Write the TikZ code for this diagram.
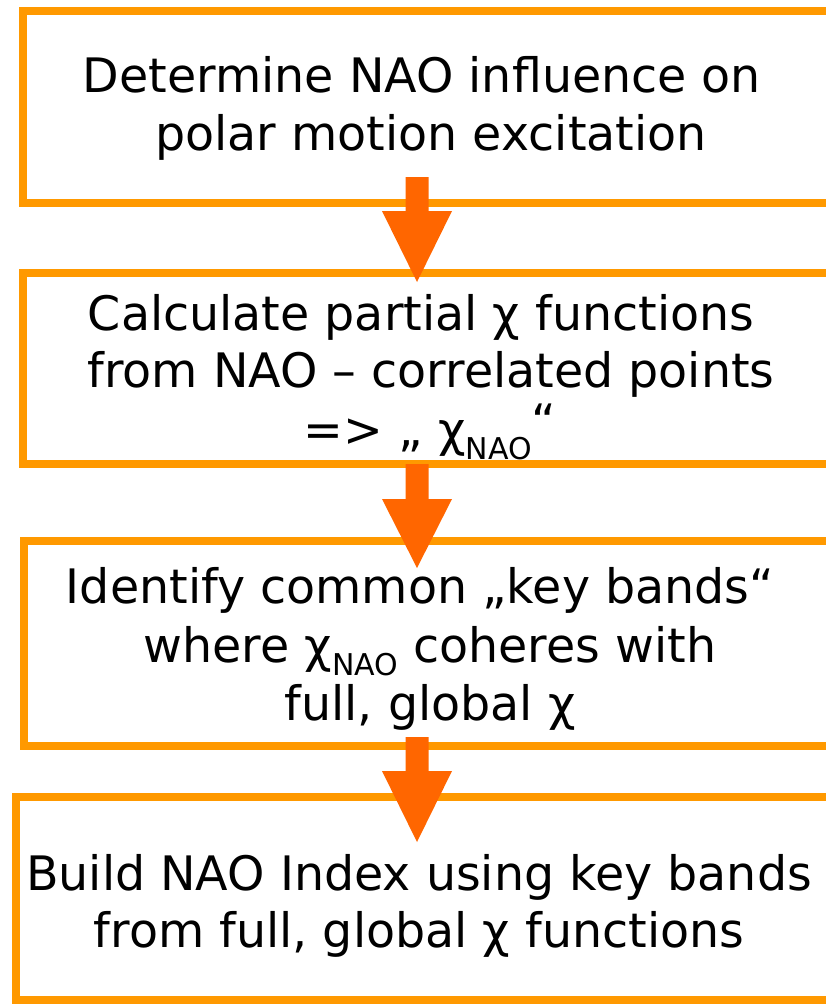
\documentclass[tikz,border=0pt]{standalone}
\usepackage{fontspec}
\setmainfont{DejaVu Sans}
\usetikzlibrary{calc}
\definecolor{boxorange}{HTML}{FF9900}
\definecolor{arroworange}{HTML}{FF6600}
\tikzset{
  flowbox/.style={draw=boxorange, line width=8pt, fill=white, rectangle, inner sep=0pt, outer sep=0pt},
  linetext/.style={anchor=base, inner sep=0pt, font=\fontsize{47.5}{58}\selectfont, text=black},
  arrowfill/.style={fill=arroworange},
}
\newcommand{\nsub}{\raisebox{-13pt}{\fontsize{30}{30}\selectfont NAO}}
\begin{document}
\begin{tikzpicture}[x=1pt,y=-1pt]
\useasboundingbox (0,0) rectangle (826,1004);
\clip (0,0) rectangle (826,1004);
\fill[white] (0,0) rectangle (826,1004);
% boxes (right edges run off the page)
\node[flowbox, minimum width=837.5pt, minimum height=192pt] (b1) at (441.25,107) {};
\node[flowbox, minimum width=837.5pt, minimum height=191pt] (b2) at (441.25,368.5) {};
\node[flowbox, minimum width=836.5pt, minimum height=205pt] (b3) at (441.75,643.5) {};
\node[flowbox, minimum width=844pt, minimum height=203pt] (b4) at (438,898.5) {};
% arrows
\coordinate (a1s) at (417,177); \coordinate (a1t) at (417,282);
\coordinate (a2s) at (417,464); \coordinate (a2t) at (417,568);
\coordinate (a3s) at (417,737); \coordinate (a3t) at (417,842);
\foreach \s/\t/\h in {a1s/a1t/71, a2s/a2t/69, a3s/a3t/71}{
  \fill[arrowfill] ($(\s)+(-11.5,0)$) -- ($(\s)+(11.5,0)$) -- ($(\t)+(11.5,-\h)$) -- ($(\t)+(35,-\h)$)
    -- (\t) -- ($(\t)+(-35,-\h)$) -- ($(\t)+(-11.5,-\h)$) -- cycle;
}
% texts
\node[linetext] (t1a) at (422,92) {Determine NAO influence on};
\node[linetext] (t1b) at (431,150) {polar motion excitation};
\node[linetext] (t2a) at (421,330) {Calculate partial χ functions};
\node[linetext] (t2b) at (431,387) {from NAO – correlated points};
\node[linetext] (t2c) at (430,446) {=> „ χ\nsub\raisebox{8pt}{“}};
\node[linetext] (t3a) at (420,603) {Identify common „key bands“};
\node[linetext] (t3b) at (430,662) {where χ\nsub{} coheres with};
\node[linetext] (t3c) at (430,720) {full, global χ};
\node[linetext] (t4a) at (419,890) {Build NAO Index using key bands};
\node[linetext] (t4b) at (419,947) {from full, global χ functions};
\end{tikzpicture}
\end{document}
